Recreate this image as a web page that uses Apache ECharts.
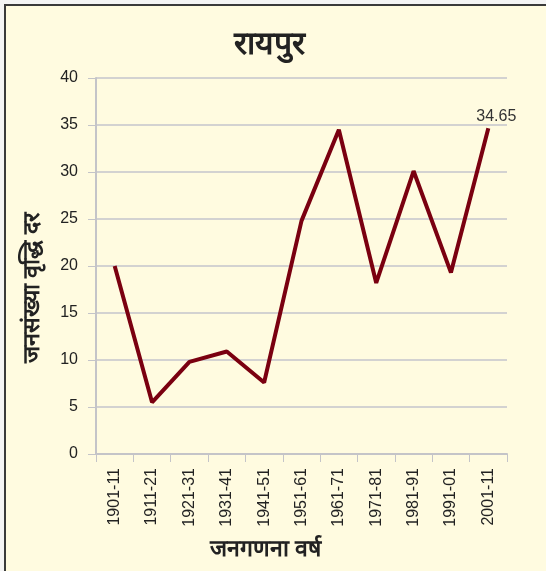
<!DOCTYPE html>
<html>
<head>
<meta charset="utf-8">
<script src="https://cdn.jsdelivr.net/npm/echarts@6/dist/echarts.min.js"></script>
<style>
    html, body { margin: 0; padding: 0; background: #f4f4f4; }
    #chart { width: 546px; height: 571px; }
</style>
</head>
<body>
<div id="chart"></div>
<script>
var periods = ['1901-11', '1911-21', '1921-31', '1931-41', '1941-51', '1951-61',
               '1961-71', '1971-81', '1981-91', '1991-01', '2001-11'];
var growthRate = [20, 5.5, 9.8, 10.9, 7.6, 24.8, 34.5, 18.2, 30.1, 19.3, 34.65];
var yTicks = [0, 5, 10, 15, 20, 25, 30, 35, 40];

var chart = echarts.init(document.getElementById('chart'));

var lastIdx = growthRate.length - 1;
var lineData = growthRate.map(function (v, i) {
    if (i === lastIdx) {
        return {
            value: v,
            label: { show: true, position: 'top', distance: 4, offset: [8, 0],
                     color: '#333', fontSize: 16, fontFamily: 'Liberation Sans' }
        };
    }
    return v;
});

var option = {
    backgroundColor: '#f4f4f4',
    animation: false,
    graphic: [
        {
            type: 'rect',
            shape: { x: 5, y: 5, width: 560, height: 580 },
            style: { fill: '#fffbe0', stroke: '#3a3a3a', lineWidth: 2 },
            z: -10
        }
    ],
    title: {
        text: 'रायपुर',
        left: 229,
        top: 24,
        textStyle: { fontSize: 32, fontWeight: 'bold', color: '#222' }
    },
    grid: { left: 96, right: 39, top: 78, bottom: 117 },
    xAxis: {
        type: 'category',
        data: periods,
        boundaryGap: true,
        name: 'जनगणना वर्ष',
        nameLocation: 'middle',
        nameGap: 84,
        nameTextStyle: { fontSize: 23, fontWeight: 'bold', color: '#222', padding: [0, 72, 0, 0] },
        axisLine: { lineStyle: { color: '#c4c4c8', width: 2 } },
        axisTick: { show: true, length: 8, lineStyle: { color: '#c4c4c8', width: 1 } },
        axisLabel: { rotate: 90, margin: 14, fontSize: 16, color: '#222', fontFamily: 'Liberation Sans' }
    },
    yAxis: {
        type: 'value',
        min: 0,
        max: 40,
        interval: 5,
        name: 'जनसंख्या वृद्धि दर',
        nameLocation: 'middle',
        nameGap: 52,
        nameTextStyle: { fontSize: 23, fontWeight: 'bold', color: '#222', padding: [0, 44, 0, 0] },
        axisLine: { show: true, lineStyle: { color: '#c4c4c8', width: 2 } },
        axisTick: { show: true, length: 8, lineStyle: { color: '#c4c4c8' } },
        axisLabel: { margin: 18, fontSize: 16, color: '#222', fontFamily: 'Liberation Sans' },
        splitLine: { lineStyle: { color: '#c4c4cc', width: 1.5 } }
    },
    series: [{
        type: 'line',
        data: lineData,
        symbol: 'circle',
        symbolSize: 0,
        showSymbol: true,
        lineStyle: { color: '#7a0010', width: 4 },
        itemStyle: { color: '#7a0010' }
    }]
};

chart.setOption(option);
window.onresize = chart.resize;
</script>
</body>
</html>
